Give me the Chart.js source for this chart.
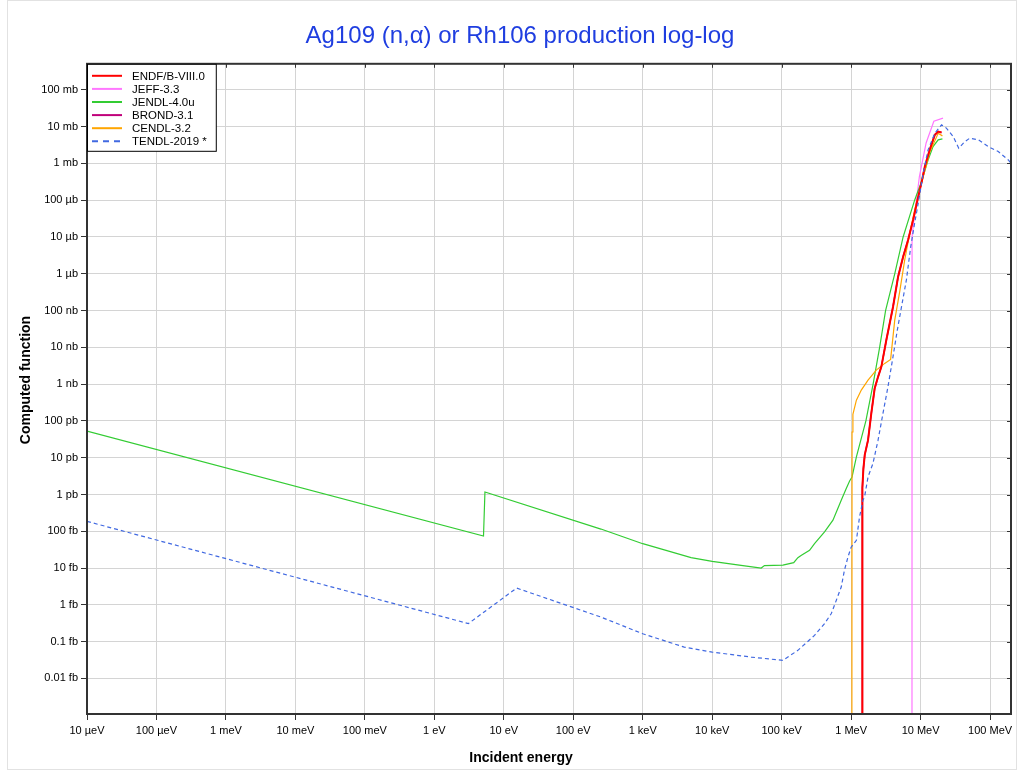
<!DOCTYPE html>
<html>
<head>
    <title>Ag109 (n,α) or Rh106 production log-log</title>
    <script src="https://cdn.jsdelivr.net/npm/chart.js"></script>
    <style>
        body { margin: 0; background: #fff; }
        #wrap { width: 1024px; height: 774px; }
    </style>
</head>
<body>
    <div id="wrap"><canvas id="xsChart" width="1024" height="774"></canvas></div>
    <script>
        // axis ticks (energy in eV, cross section in b)
        var xTickValues = [1e-5, 1e-4, 1e-3, 1e-2, 1e-1, 1, 10, 100, 1e3, 1e4, 1e5, 1e6, 1e7, 1e8];
        var xTickLabels = ['10 µeV', '100 µeV', '1 meV', '10 meV', '100 meV', '1 eV', '10 eV', '100 eV',
                           '1 keV', '10 keV', '100 keV', '1 MeV', '10 MeV', '100 MeV'];
        var yTickValues = [1e-1, 1e-2, 1e-3, 1e-4, 1e-5, 1e-6, 1e-7, 1e-8, 1e-9, 1e-10, 1e-11, 1e-12,
                           1e-13, 1e-14, 1e-15, 1e-16, 1e-17];
        var yTickLabels = ['100 mb', '10 mb', '1 mb', '100 µb', '10 µb', '1 µb', '100 nb', '10 nb', '1 nb',
                           '100 pb', '10 pb', '1 pb', '100 fb', '10 fb', '1 fb', '0.1 fb', '0.01 fb'];

        var seriesNames = ['ENDF/B-VIII.0', 'JEFF-3.3', 'JENDL-4.0u', 'BROND-3.1', 'CENDL-3.2', 'TENDL-2019 *'];

        // ENDF/B-VIII.0
        var endfE = [1.44e6, 1.45e6, 1.5e6, 1.57e6, 1.75e6, 1.95e6, 2.18e6, 2.44e6, 2.72e6, 3.21e6, 3.59e6,
                     4.01e6, 4.74e6, 5.6e6, 6.6e6, 7.8e6, 9.0e6, 1.05e7, 1.15e7, 1.35e7, 1.6e7, 1.79e7, 2.0e7];
        var endfXS = [1e-25, 1.5e-12, 5e-12, 1.2e-11, 3.0e-11, 1.6e-10, 7.6e-10, 1.58e-9, 2.95e-9, 1.58e-8, 4.5e-8,
                      1.27e-7, 8.3e-7, 2.9e-6, 8.3e-6, 2.9e-5, 1.0e-4, 3.56e-4, 8.2e-4, 2.33e-3, 5.97e-3, 7.3e-3, 6.9e-3];

        // JEFF-3.3
        var jeffE = [7.5e6, 7.53e6, 8.2e6, 9.0e6, 9.6e6, 1.2e7, 1.55e7, 2.1e7];
        var jeffXS = [1e-25, 1.0e-5, 4.4e-5, 1.6e-4, 4.4e-4, 3.6e-3, 1.4e-2, 1.7e-2];

        // JENDL-4.0u
        var jendlE = [1e-5, 5.1, 5.35, 250, 1000, 4960, 1e4, 2.6e4, 5.07e4, 5.65e4, 1.04e5, 1.49e5, 1.71e5,
                      1.9e5, 2.52e5, 2.97e5, 4.14e5, 5.47e5, 7.2e5, 8.5e5, 9.5e5, 1.03e6, 1.19e6, 1.63e6,
                      2.07e6, 2.57e6, 3.13e6, 4.24e6, 5.6e6, 8.2e6, 1.05e7, 1.28e7, 1.51e7, 1.79e7, 2.06e7];
        var jendlXS = [5.3e-11, 7.4e-14, 1.17e-12, 1.15e-13, 4.6e-14, 1.92e-14, 1.52e-14, 1.19e-14, 1.0e-14,
                       1.17e-14, 1.2e-14, 1.41e-14, 1.92e-14, 2.2e-14, 3.04e-14, 4.6e-14, 9.6e-14, 2.0e-13,
                       7.0e-13, 1.46e-12, 2.34e-12, 3.0e-12, 1.05e-11, 1.0e-10, 1.0e-9, 1.0e-8, 1.0e-7, 1.0e-6,
                       1.0e-5, 1.0e-4, 3.56e-4, 1.24e-3, 2.87e-3, 4.37e-3, 4.65e-3];

        // BROND-3.1 (lies under ENDF/B-VIII.0)
        var brondE = [1.44e6, 1.45e6, 1.5e6, 1.57e6, 1.75e6, 1.95e6, 2.18e6, 2.44e6, 2.72e6, 3.21e6, 3.59e6,
                      4.01e6, 4.74e6, 5.6e6, 6.6e6, 7.8e6, 9.0e6, 1.05e7, 1.15e7, 1.35e7, 1.6e7, 1.79e7, 2.0e7];
        var brondXS = [1e-25, 1.5e-12, 5e-12, 1.2e-11, 3.0e-11, 1.6e-10, 7.6e-10, 1.58e-9, 2.95e-9, 1.58e-8, 4.5e-8,
                       1.27e-7, 8.3e-7, 2.9e-6, 8.3e-6, 2.9e-5, 1.0e-4, 3.56e-4, 8.2e-4, 2.33e-3, 5.97e-3, 7.3e-3, 6.9e-3];

        // CENDL-3.2
        var cendlE = [1.02e6, 1.03e6, 1.06e6, 1.19e6, 1.4e6, 1.75e6, 2.3e6, 3.04e6, 3.7e6, 4.24e6, 5.0e6,
                      5.9e6, 6.97e6, 8.2e6, 1.0e7, 1.35e7, 1.79e7, 2.06e7];
        var cendlXS = [1e-25, 5e-11, 1.5e-10, 3.67e-10, 6.9e-10, 1.29e-9, 2.4e-9, 3.66e-9, 4.7e-9, 5.5e-8, 3.25e-7,
                       2.37e-6, 1.26e-5, 5.4e-5, 2.34e-4, 2.0e-3, 6.6e-3, 5.6e-3];

        // TENDL-2019
        var tendlE = [1e-5, 3.09, 15.3, 250, 1000, 3960, 1e4, 3.63e4, 1.04e5, 1.71e5, 2.97e5, 4.14e5, 5.18e5,
                      6.1e5, 7.2e5, 8.0e5, 9.0e5, 1.0e6, 1.19e6, 1.32e6, 1.48e6, 1.56e6, 1.75e6, 2.06e6, 2.44e6,
                      2.87e6, 3.39e6, 4.0e6, 4.62e6, 5.28e6, 6.24e6, 7.2e6, 8.2e6, 9.4e6, 1.09e7, 1.28e7, 1.6e7,
                      2.0e7, 2.35e7, 2.94e7, 3.54e7, 4.32e7, 5.1e7, 6.75e7, 9.4e7, 1.31e8, 1.83e8, 2.0e8];
        var tendlXS = [1.86e-13, 3.1e-16, 2.86e-15, 4.66e-16, 1.64e-16, 7.1e-17, 5.2e-17, 3.8e-17, 3.1e-17,
                       5.8e-17, 1.48e-16, 3.1e-16, 5.8e-16, 1.32e-15, 3.05e-15, 8.7e-15, 2.0e-14, 3.7e-14, 5.7e-14,
                       2.45e-13, 7.0e-13, 8.6e-13, 3.0e-12, 7.0e-12, 3.0e-11, 1.6e-10, 8.5e-10, 5.5e-9, 2.95e-8,
                       1.2e-7, 6.8e-7, 5.4e-6, 2.36e-5, 1.0e-4, 5.4e-4, 2.33e-3, 6.6e-3, 1.12e-2, 9.1e-3, 5.4e-3,
                       2.6e-3, 3.9e-3, 4.85e-3, 4.4e-3, 2.87e-3, 2.1e-3, 1.24e-3, 1.0e-3];

        function pts(xs, ys) {
            return xs.map(function (x, i) { return { x: x, y: ys[i] }; });
        }

        function series(i, xs, ys, color, width, dash, order) {
            return {
                label: seriesNames[i],
                data: pts(xs, ys),
                borderColor: color,
                backgroundColor: color,
                borderWidth: width,
                borderDash: dash || [],
                pointRadius: 0,
                tension: 0,
                fill: false,
                order: order
            };
        }

        var font = "'Liberation Sans', Arial, sans-serif";

        // frame, mirrored ticks, legend box and axis titles
        var decorations = {
            id: 'decorations',
            beforeDraw: function (chart) {
                var ctx = chart.ctx;
                ctx.save();
                ctx.strokeStyle = '#e2e2e2';
                ctx.lineWidth = 1;
                ctx.strokeRect(7.5, 0.5, 1009, 769);
                ctx.restore();
            },
            afterDatasetsDraw: function (chart) {
                var ctx = chart.ctx, a = chart.chartArea;
                var xs = chart.scales.x, ys = chart.scales.y;
                ctx.save();
                ctx.strokeStyle = '#333';
                ctx.lineWidth = 1;
                ctx.beginPath();
                xs.ticks.forEach(function (t) {
                    var px = Math.round(xs.getPixelForValue(t.value)) + 0.5;
                    ctx.moveTo(px, a.top); ctx.lineTo(px, a.top + 4);
                });
                ys.ticks.forEach(function (t) {
                    var py = Math.round(ys.getPixelForValue(t.value)) + 0.5;
                    ctx.moveTo(a.right - 4, py); ctx.lineTo(a.right, py);
                });
                ctx.stroke();

                ctx.lineWidth = 2;
                ctx.strokeRect(a.left, a.top, a.right - a.left, a.bottom - a.top);

                // legend
                ctx.font = '11.5px ' + font;
                var labels = chart.data.datasets.slice().sort(function (p, q) {
                    return seriesNames.indexOf(p.label) - seriesNames.indexOf(q.label);
                });
                var tw = 0;
                labels.forEach(function (d) { tw = Math.max(tw, ctx.measureText(d.label).width); });
                var bx = a.left + 0.5, by = a.top + 0.5, bw = 45 + tw + 9, bh = 87;
                ctx.fillStyle = '#fff';
                ctx.fillRect(bx, by, bw, bh);
                ctx.lineWidth = 1;
                ctx.strokeStyle = '#000';
                ctx.strokeRect(bx, by, bw, bh);
                labels.forEach(function (d, i) {
                    var ly = a.top + 12 + i * 13.1;
                    ctx.beginPath();
                    ctx.strokeStyle = d.borderColor;
                    ctx.lineWidth = 2;
                    ctx.setLineDash(d.borderDash.length ? [6, 5] : []);
                    ctx.moveTo(a.left + 5, ly); ctx.lineTo(a.left + 35, ly);
                    ctx.stroke();
                    ctx.setLineDash([]);
                    ctx.fillStyle = '#000';
                    ctx.textBaseline = 'middle';
                    ctx.textAlign = 'left';
                    ctx.fillText(d.label, a.left + 45, ly + 1);
                });

                // axis titles
                ctx.font = 'bold 14px ' + font;
                ctx.fillStyle = '#000';
                ctx.textAlign = 'center';
                ctx.textBaseline = 'middle';
                ctx.fillText('Incident energy', 521, 758);
                ctx.translate(26, 380);
                ctx.rotate(-Math.PI / 2);
                ctx.fillText('Computed function', 0, 0);
                ctx.restore();
            }
        };

        var ctx = document.getElementById('xsChart').getContext('2d');
        var xsChart = new Chart(ctx, {
            type: 'line',
            data: {
                datasets: [
                    series(3, brondE, brondXS, '#c0007a', 1.5, null, 6),
                    series(0, endfE, endfXS, '#ff0000', 2, null, 2),
                    series(1, jeffE, jeffXS, '#ff77ff', 1.2, null, 5),
                    series(2, jendlE, jendlXS, '#33cc33', 1.2, null, 4),
                    series(4, cendlE, cendlXS, '#ffa500', 1.2, null, 3),
                    series(5, tendlE, tendlXS, '#4169e1', 1.2, [4, 3], 1)
                ]
            },
            options: {
                responsive: false,
                animation: false,
                layout: { padding: { left: 29, right: 13, top: 0, bottom: 0 } },
                plugins: {
                    legend: { display: false },
                    tooltip: { enabled: false },
                    title: {
                        display: true,
                        text: 'Ag109 (n,α) or Rh106 production log-log',
                        color: '#1f3ee0',
                        font: { family: font, size: 24, weight: 'normal', lineHeight: 1.2 },
                        padding: { top: 22, bottom: 13 }
                    }
                },
                scales: {
                    x: {
                        type: 'logarithmic',
                        min: 1e-5,
                        max: 2e8,
                        afterBuildTicks: function (scale) {
                            scale.ticks = xTickValues.map(function (v) { return { value: v }; });
                        },
                        afterFit: function (scale) { scale.height = 60; },
                        grid: { color: '#d4d4d4', lineWidth: 1, tickColor: '#333', tickLength: 6, tickWidth: 1 },
                        border: { display: false },
                        ticks: {
                            autoSkip: false, maxRotation: 0, minRotation: 0, padding: 4, color: '#000',
                            font: { family: font, size: 11 },
                            callback: function (v, i) { return xTickLabels[i]; }
                        }
                    },
                    y: {
                        type: 'logarithmic',
                        min: 1.08e-18,
                        max: 0.51,
                        afterBuildTicks: function (scale) {
                            scale.ticks = yTickValues.map(function (v) { return { value: v }; });
                        },
                        afterFit: function (scale) { scale.width = 58; },
                        grid: { color: '#d4d4d4', lineWidth: 1, tickColor: '#333', tickLength: 6, tickWidth: 1 },
                        border: { display: false },
                        ticks: {
                            autoSkip: false, padding: 3, color: '#000',
                            font: { family: font, size: 11 },
                            callback: function (v, i) { return yTickLabels[i]; }
                        }
                    }
                }
            },
            plugins: [decorations]
        });
    </script>
</body>
</html>
